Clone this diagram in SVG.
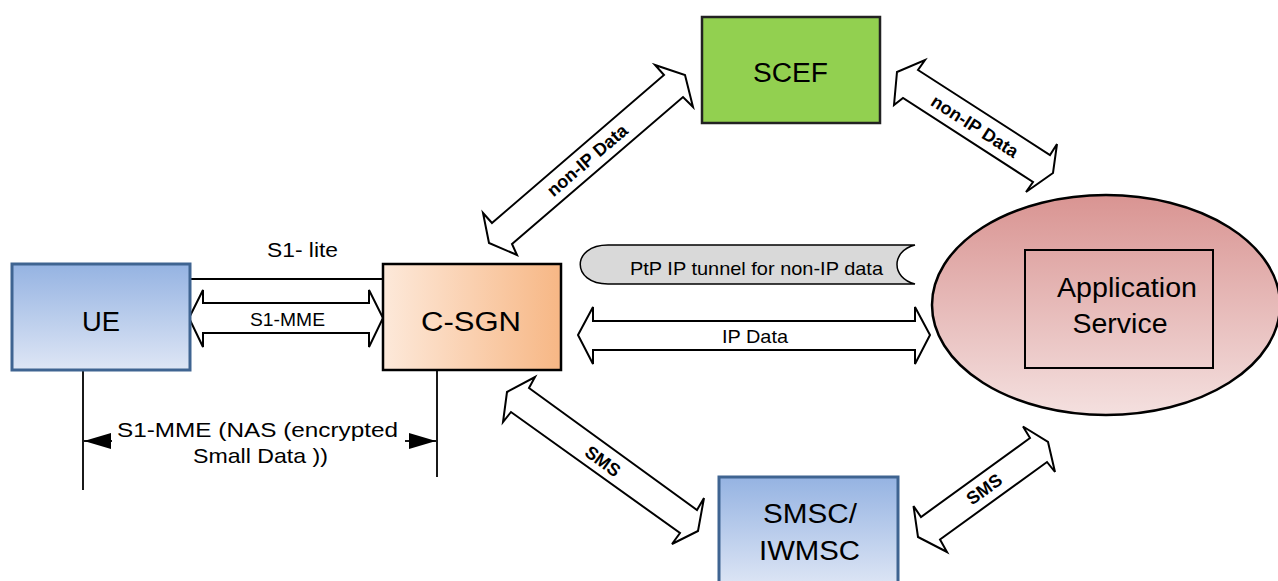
<svg xmlns="http://www.w3.org/2000/svg" width="1278" height="581" viewBox="0 0 1278 581">
<defs>
<linearGradient id="blueGrad" x1="0" y1="0" x2="0" y2="1">
<stop offset="0" stop-color="#95b3e2"/>
<stop offset="1" stop-color="#dee6f5"/>
</linearGradient>
<linearGradient id="orangeGrad" x1="0" y1="0" x2="1" y2="0">
<stop offset="0" stop-color="#fde9da"/>
<stop offset="1" stop-color="#f7b785"/>
</linearGradient>
<linearGradient id="pinkGrad" x1="0" y1="0" x2="0" y2="1">
<stop offset="0" stop-color="#d99492"/>
<stop offset="1" stop-color="#f4e0df"/>
</linearGradient>
<marker id="dimArrow" viewBox="0 0 27 16" refX="27" refY="8" markerWidth="27" markerHeight="16" markerUnits="userSpaceOnUse" orient="auto">
<path d="M0,0 L27,8 L0,16 Z" fill="#000"/>
</marker>
<style>
.lbl{font-family:"Liberation Sans",Arial,sans-serif;fill:#000}
.box{font-size:27px;text-anchor:middle}
.small{font-size:19px}
.rot{font-size:18px;font-weight:bold;text-anchor:middle}
.blk{fill:#fff;stroke:#000;stroke-width:2;stroke-linejoin:miter}
.ln{stroke:#000;stroke-width:1.8;fill:none}
</style>
</defs>
<rect width="1278" height="581" fill="#fff"/>

<g id="connectors">
<line class="ln" x1="190" y1="279" x2="383" y2="279"/>
<polygon class="blk" points="189,318 203,290 203,303 369,303 369,290 383,318 369,347 369,333 203,333 203,347"/>
<text class="lbl small" x="287.5" y="326" text-anchor="middle" textLength="75" lengthAdjust="spacingAndGlyphs">S1-MME</text>
<text class="lbl" x="267" y="257" font-size="20" textLength="71" lengthAdjust="spacingAndGlyphs">S1- lite</text>

<line class="ln" x1="83" y1="371" x2="83" y2="490"/>
<line class="ln" x1="437" y1="371" x2="437" y2="477"/>
<line class="ln" x1="112" y1="441" x2="84" y2="441" marker-end="url(#dimArrow)"/>
<line class="ln" x1="405" y1="441" x2="436" y2="441" marker-end="url(#dimArrow)"/>
<text class="lbl" x="117" y="437" font-size="21" textLength="281" lengthAdjust="spacingAndGlyphs">S1-MME (NAS (encrypted</text>
<text class="lbl" x="193" y="463" font-size="21" textLength="135" lengthAdjust="spacingAndGlyphs">Small Data ))</text>

<polygon class="blk" points="492,223 664,75 655,65 685,75 693,107 683,97 512,244 517,255 489,243 483,213"/>
<text class="lbl rot" transform="translate(587,160) rotate(-40.7)" x="0" y="6.5">non-IP Data</text>

<polygon class="blk" points="918,70 1050,155 1057,144 1053,173 1026,192 1033,182 903,98 894,105 897,72 925,60"/>
<text class="lbl rot" transform="translate(975,126) rotate(32.8)" x="0" y="6.5">non-IP Data</text>

<path d="M608,245 L915,245 C891,251 891,278 915,284 L608,284 C571,284 571,245 608,245 Z" fill="#d9d9d9" stroke="#000" stroke-width="1.5"/>
<text class="lbl" x="630" y="275" font-size="19" textLength="253" lengthAdjust="spacingAndGlyphs">PtP IP tunnel for non-IP data</text>

<polygon class="blk" points="578,335 593,307 593,321 915,321 915,307 930,335 915,364 915,350 593,350 593,364"/>
<text class="lbl" x="755" y="343" font-size="19" text-anchor="middle" textLength="66" lengthAdjust="spacingAndGlyphs">IP Data</text>

<polygon class="blk" points="529,388 697,510 704,498 698,531 672,544 680,533 511,412 503,422 507,392 535,377"/>
<text class="lbl rot" transform="translate(603,461) rotate(36)" x="0" y="6.5">SMS</text>

<polygon class="blk" points="1030,438 921,517 913.5,506 918,537 947,552 940,539.5 1047,462 1055,472 1048,442 1023,426.5"/>
<text class="lbl rot" transform="translate(984,489) rotate(-36)" x="0" y="6.5">SMS</text>
</g>

<g id="node-ue">
<rect x="12" y="264" width="178" height="106" fill="url(#blueGrad)" stroke="#3f6491" stroke-width="3"/>
<text class="lbl box" x="101" y="331" textLength="38" lengthAdjust="spacingAndGlyphs">UE</text>
</g>

<g id="node-csgn">
<rect x="383" y="264" width="178" height="106" fill="url(#orangeGrad)" stroke="#000" stroke-width="2.5"/>
<text class="lbl box" x="471" y="331" textLength="100" lengthAdjust="spacingAndGlyphs">C-SGN</text>
</g>

<g id="node-scef">
<rect x="702" y="17" width="178" height="106" fill="#92d050" stroke="#222" stroke-width="2.5"/>
<text class="lbl box" x="790.5" y="82" textLength="75" lengthAdjust="spacingAndGlyphs">SCEF</text>
</g>

<g id="node-app">
<ellipse cx="1106" cy="305" rx="174" ry="110" fill="url(#pinkGrad)" stroke="#000" stroke-width="2.5"/>
<rect x="1025" y="250" width="188" height="118" fill="none" stroke="#000" stroke-width="2"/>
<text class="lbl box" x="1127" y="297" textLength="140" lengthAdjust="spacingAndGlyphs">Application</text>
<text class="lbl box" x="1120" y="333" textLength="95" lengthAdjust="spacingAndGlyphs">Service</text>
</g>

<g id="node-smsc">
<rect x="719" y="477" width="179" height="110" fill="url(#blueGrad)" stroke="#3f6491" stroke-width="3"/>
<text class="lbl box" x="810" y="523" textLength="94" lengthAdjust="spacingAndGlyphs">SMSC/</text>
<text class="lbl box" x="809.5" y="560" textLength="101" lengthAdjust="spacingAndGlyphs">IWMSC</text>
</g>
</svg>
